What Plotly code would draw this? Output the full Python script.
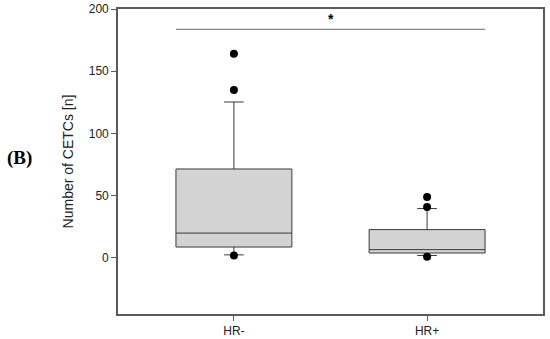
import plotly.graph_objects as go

categories = ["HR-", "HR+"]
q1 = [8.8, 4.0]
median = [20.0, 6.7]
q3 = [71.5, 22.8]
lower_whisker = [2.5, 2.0]
upper_whisker = [125.3, 39.7]
outliers = {"HR-": [164.0, 135.0, 2.0], "HR+": [49.0, 41.0, 1.0]}
y_ticks = [0, 50, 100, 150, 200]
sig_level = 183.7
sig_label = "*"

fig = go.Figure()
fig.add_trace(go.Box(
    x=categories, q1=q1, median=median, q3=q3,
    lowerfence=lower_whisker, upperfence=upper_whisker,
    boxpoints=False, width=0.6, whiskerwidth=0.17,
    fillcolor="#d3d3d3", line=dict(color="#3a3a3a", width=1),
    showlegend=False, hoverinfo="skip"))

ox, oy = [], []
for c in categories:
    for v in outliers[c]:
        ox.append(c)
        oy.append(v)
fig.add_trace(go.Scatter(x=ox, y=oy, mode="markers",
                         marker=dict(color="black", size=8),
                         showlegend=False, hoverinfo="skip"))

# significance bar spanning the two boxes
fig.add_shape(type="line", xref="x", yref="y", x0=-0.3, x1=1.3,
              y0=sig_level, y1=sig_level, line=dict(color="#666666", width=1))
fig.add_annotation(x=0.5, y=sig_level, xref="x", yref="y", text="<b>" + sig_label + "</b>",
                   showarrow=False, yshift=10, font=dict(size=14, color="black"))

fig.add_annotation(x=-0.266, y=0.51, xref="paper", yref="paper", xanchor="left",
                   text="<b>(B)</b>", showarrow=False,
                   font=dict(family="Liberation Serif", size=19, color="black"))

fig.update_layout(
    width=550, height=339,
    margin=dict(l=118, r=7, t=9, b=25, autoexpand=False),
    paper_bgcolor="white", plot_bgcolor="white",
    font=dict(family="Liberation Sans, Arial", size=12, color="#222222"),
)
fig.update_xaxes(type="category", range=[-0.6, 1.6], showline=True, mirror=True,
                 linecolor="#5a5a5a", linewidth=1.6, ticks="outside", ticklen=5,
                 tickcolor="#5a5a5a", showgrid=False, zeroline=False, automargin=False,
                 tickfont=dict(size=12, color="#222222"))
fig.update_yaxes(range=[-45, 200], tickvals=y_ticks, showline=True, mirror=True,
                 linecolor="#5a5a5a", linewidth=1.6, ticks="outside", ticklen=5,
                 tickcolor="#5a5a5a", showgrid=False, zeroline=False, automargin=False,
                 title=dict(text="Number of CETCs [n]", font=dict(size=14, color="#222222"), standoff=12),
                 tickfont=dict(size=12, color="#222222"))

fig.write_html("out.html", config={"displayModeBar": False},
               post_script="document.body.style.margin='0';")
